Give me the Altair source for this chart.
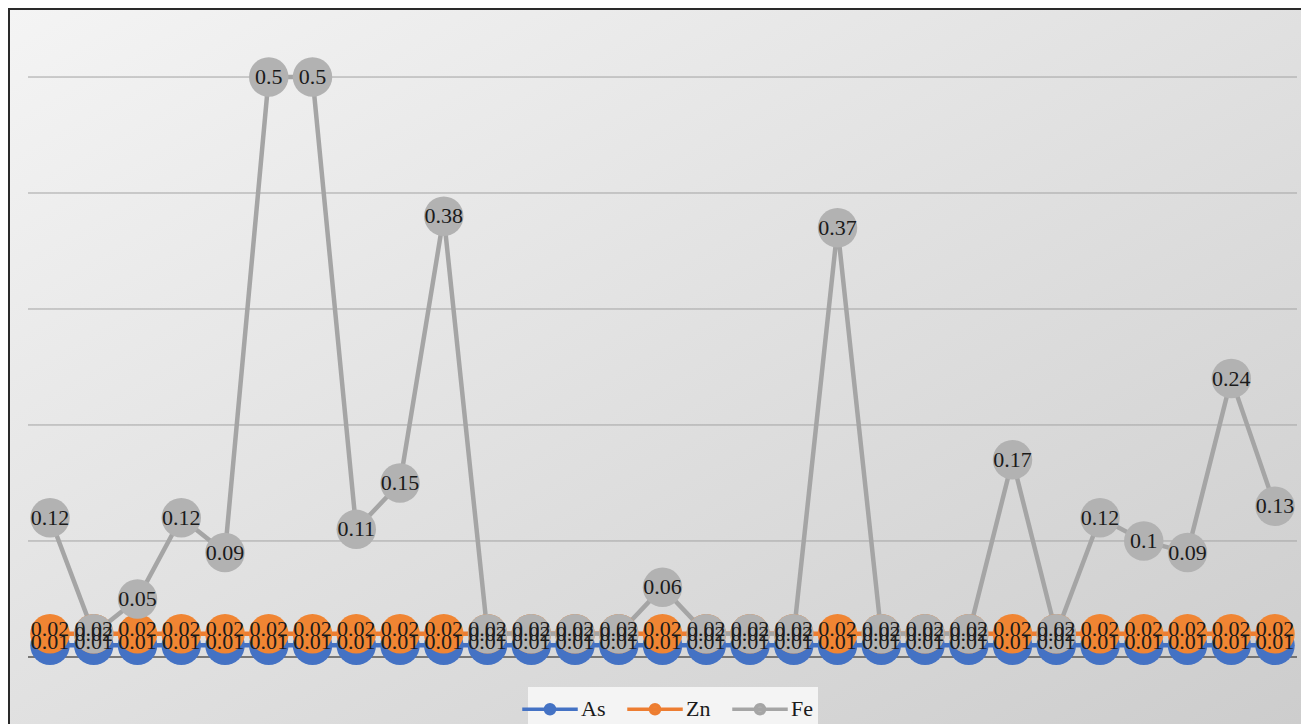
import altair as alt
import pandas as pd

samples = list(range(1, 30))
as_vals = [0.01, 0.01, 0.01, 0.01, 0.01, 0.01, 0.01, 0.01, 0.01, 0.01,
           0.01, 0.01, 0.01, 0.01, 0.01, 0.01, 0.01, 0.01, 0.01, 0.01,
           0.01, 0.01, 0.01, 0.01, 0.01, 0.01, 0.01, 0.01, 0.01]
zn_vals = [0.02, 0.02, 0.02, 0.02, 0.02, 0.02, 0.02, 0.02, 0.02, 0.02,
           0.02, 0.02, 0.02, 0.02, 0.02, 0.02, 0.02, 0.02, 0.02, 0.02,
           0.02, 0.02, 0.02, 0.02, 0.02, 0.02, 0.02, 0.02, 0.02]
fe_vals = [0.12, 0.02, 0.05, 0.12, 0.09, 0.5, 0.5, 0.11, 0.15, 0.38,
           0.02, 0.02, 0.02, 0.02, 0.06, 0.02, 0.02, 0.02, 0.37, 0.02,
           0.02, 0.02, 0.17, 0.02, 0.12, 0.1, 0.09, 0.24, 0.13]
series_names = ["As", "Zn", "Fe"]
line_colors = ["#4472C4", "#ED7D31", "#A5A5A5"]
marker_colors = ["#4472C4", "#F08533", "#B2B2B2"]
grid_values = [0.1, 0.2, 0.3, 0.4, 0.5]

rows = []
for name, vals in zip(series_names, [as_vals, zn_vals, fe_vals]):
    for s, v in zip(samples, vals):
        rows.append({"sample": s, "series": name, "value": v, "label": str(v)})
df = pd.DataFrame(rows)
grid_df = pd.DataFrame({"g": grid_values})
zero_df = pd.DataFrame({"g": [0.0]})

W, H = 1301, 724
xscale = alt.Scale(domain=[-0.1429, 29.594], nice=False, zero=False)
yscale = alt.Scale(domain=[-0.0578, 0.5664], nice=False, zero=False)
line_scale = alt.Scale(domain=series_names, range=line_colors)
marker_scale = alt.Scale(domain=series_names, range=marker_colors)

FONT = "Liberation Serif"

bg = alt.Chart(pd.DataFrame({"a": [0]})).mark_rect(
    fill={"gradient": "linear", "x1": 0, "y1": 0, "x2": 1, "y2": 1,
          "stops": [{"offset": 0, "color": "#f4f4f4"},
                    {"offset": 1, "color": "#cdcdcd"}]}
).encode(x=alt.value(9), x2=alt.value(W), y=alt.value(9), y2=alt.value(H))

frame_top = alt.Chart(pd.DataFrame({"a": [0]})).mark_rule(
    color="#2a2a2a", strokeWidth=2
).encode(x=alt.value(8), x2=alt.value(W), y=alt.value(9))
frame_left = alt.Chart(pd.DataFrame({"a": [0]})).mark_rule(
    color="#2a2a2a", strokeWidth=2
).encode(x=alt.value(9), y=alt.value(8), y2=alt.value(H))

grid = alt.Chart(grid_df).mark_rule(color="#a3a3a3", strokeWidth=1).encode(
    y=alt.Y("g:Q", scale=yscale, axis=None),
    x=alt.value(28), x2=alt.value(1297),
)
zero_line = alt.Chart(zero_df).mark_rule(color="#555555", strokeWidth=1.5).encode(
    y=alt.Y("g:Q", scale=yscale, axis=None),
    x=alt.value(28), x2=alt.value(1297),
)

legend = alt.Legend(
    title=None, orient="none", legendX=528, legendY=687, direction="horizontal",
    fillColor="#f4f4f4", padding=5, columnPadding=14,
    symbolType="M-1.85,0L1.85,0M-0.3,0A0.3,0.3,0,1,1,0.3,0A0.3,0.3,0,1,1,-0.3,0Z",
    symbolSize=900, symbolStrokeWidth=3.5, labelOffset=14, symbolOpacity=1,
    labelFont=FONT, labelFontSize=22, labelColor="#1a1a1a",
)

layers = [bg, frame_top, frame_left, grid, zero_line]
base = alt.Chart(df)
for name in series_names:
    layers.append(
        base.transform_filter(alt.datum.series == name).mark_line(strokeWidth=4.5).encode(
            x=alt.X("sample:Q", scale=xscale, axis=None),
            y=alt.Y("value:Q", scale=yscale, axis=None),
            stroke=alt.Stroke("series:N", scale=line_scale, legend=legend),
        )
    )
for name in series_names:
    layers.append(
        base.transform_filter(alt.datum.series == name).mark_circle(size=1560, opacity=1).encode(
            x=alt.X("sample:Q", scale=xscale, axis=None),
            y=alt.Y("value:Q", scale=yscale, axis=None),
            fill=alt.Fill("series:N", scale=marker_scale, legend=None),
        )
    )
for name, dy in zip(series_names, [-3, -5, 0]):
    layers.append(
        base.transform_filter(alt.datum.series == name).mark_text(
            font=FONT, fontSize=22, color="#1a1a1a", baseline="middle", align="center", dy=dy
        ).encode(
            x=alt.X("sample:Q", scale=xscale, axis=None),
            y=alt.Y("value:Q", scale=yscale, axis=None),
            text="label:N",
        )
    )

chart = alt.layer(*layers).properties(
    width=W, height=H, padding=0, background="white",
    autosize=alt.AutoSizeParams(type="none"),
).configure_view(stroke=None)

chart.save("out.html", embed_options={"renderer": "svg", "actions": False})
